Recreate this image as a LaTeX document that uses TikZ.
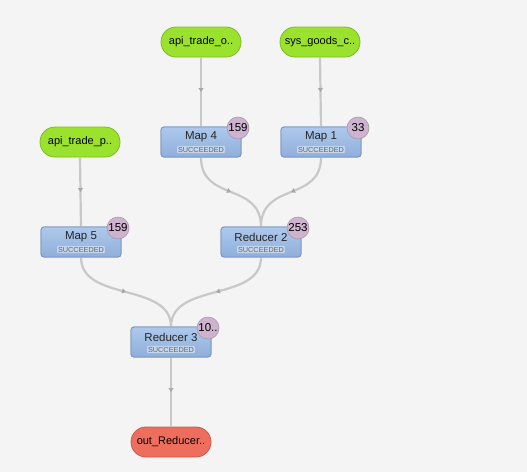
\documentclass[tikz,border=0pt]{standalone}
\usepackage{fontspec}
\setmainfont{Liberation Sans}
\usetikzlibrary{arrows.meta,decorations.markings,shapes.misc}
\definecolor{bgc}{HTML}{F4F4F4}
\definecolor{edgec}{HTML}{C8C8C8}
\definecolor{arrc}{HTML}{A8A8A8}
\definecolor{greenf}{HTML}{9BE22E}
\definecolor{greend}{HTML}{7DBA22}
\definecolor{bluet}{HTML}{ADC8EC}
\definecolor{blueb}{HTML}{8FAFDA}
\definecolor{blued}{HTML}{7893BC}
\definecolor{blueh}{HTML}{C4D6EE}
\definecolor{badgef}{HTML}{CDB3CF}
\definecolor{badged}{HTML}{A898AA}
\definecolor{redf}{HTML}{EE6E5E}
\definecolor{redd}{HTML}{C95A4C}
\tikzset{
  x=1pt,y=-1pt,
  ionode/.style={rounded rectangle, minimum width=80pt, minimum height=30pt, inner sep=0pt, line width=0.8pt, font=\fontsize{11}{13}\selectfont},
  innode/.style={ionode, fill=greenf, draw=greend},
  outnode/.style={ionode, fill=redf, draw=redd},
  jobbox/.style={rectangle, rounded corners=3pt, minimum width=80pt, minimum height=30pt, inner sep=0pt, line width=0.8pt, draw=blued, top color=bluet, bottom color=blueb},
  jobtitle/.style={font=\fontsize{11.5}{13}\selectfont, inner sep=0pt, text=black!85},
  jobstate/.style={font=\fontsize{7.3}{8}\selectfont, inner sep=1pt, fill=blueh, text=black!60, rounded corners=1pt},
  badge/.style={circle, minimum size=22pt, inner sep=0pt, fill=badgef, draw=badged, line width=0.6pt, font=\fontsize{11.5}{13}\selectfont},
  flow/.style={draw=edgec, line width=2.2pt, postaction={decorate}, decoration={markings, mark=at position 0.5 with {\arrow[arrc]{Triangle[width=5pt,length=4pt]}}}},
}
\begin{document}
\begin{tikzpicture}
\useasboundingbox (0,0) rectangle (527,472);
\fill[bgc] (0,0) rectangle (527,472);
% inputs
\node[innode] (in1) at (201,42) {api\_trade\_o..};
\node[innode] (in2) at (320,42) {sys\_goods\_c..};
\node[innode] (in3) at (80,142) {api\_trade\_p..};
\node[outnode] (out) at (171,442) {out\_Reducer..};
% jobs
\node[jobbox] (m4) at (201,142) {};
\node[jobbox] (m1) at (321,142) {};
\node[jobbox] (m5) at (81,242) {};
\node[jobbox] (r2) at (261,242) {};
\node[jobbox] (r3) at (171,342) {};
% edges
\path[flow] (in1.south) -- (m4.north);
\path[flow] (in2.south) -- (m1.north);
\path[flow] (in3.south) -- (m5.north);
\path[flow] (m4.south) .. controls (201,202) and (261,182) .. (r2.north);
\path[flow] (m1.south) .. controls (321,202) and (261,182) .. (r2.north);
\path[flow] (m5.south) .. controls (81,302) and (171,282) .. (r3.north);
\path[flow] (r2.south) .. controls (261,302) and (171,282) .. (r3.north);
\path[flow] (r3.south) -- (out.north);
% redraw boxes on top
\node[jobbox] at (m4) {};
\node[jobbox] at (m1) {};
\node[jobbox] at (m5) {};
\node[jobbox] at (r2) {};
\node[jobbox] at (r3) {};
% titles
\node[jobtitle] (m4t) at (201,137) {Map 4};
\node[jobstate] (m4s) at (201,149.5) {SUCCEEDED};
\node[jobtitle] (m1t) at (321,137) {Map 1};
\node[jobstate] (m1s) at (321,149.5) {SUCCEEDED};
\node[jobtitle] (m5t) at (81,237) {Map 5};
\node[jobstate] (m5s) at (81,249.5) {SUCCEEDED};
\node[jobtitle] (r2t) at (261,237) {Reducer 2};
\node[jobstate] (r2s) at (261,249.5) {SUCCEEDED};
\node[jobtitle] (r3t) at (171,337) {Reducer 3};
\node[jobstate] (r3s) at (171,349.5) {SUCCEEDED};
% badges
\node[badge] (b4) at (238,128) {159};
\node[badge] (b1) at (358,128) {33};
\node[badge] (b5) at (118,228) {159};
\node[badge] (b2) at (298,228) {253};
\node[badge] (b3) at (208,328) {10..};
\end{tikzpicture}
\end{document}
